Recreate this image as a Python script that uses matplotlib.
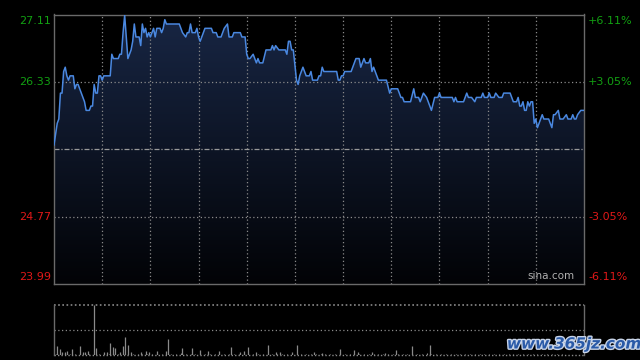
import numpy as np
import matplotlib
matplotlib.use("Agg")
import matplotlib.pyplot as plt
import matplotlib.patheffects as pe

# ---------------- data ----------------
prev_close = 25.55
y_ticks_left = [27.11, 26.33, 24.77, 23.99]
y_ticks_right = ["+6.11%", "+3.05%", "-3.05%", "-6.11%"]

minutes = [0, 2, 3, 4, 5, 6, 7, 8, 9, 10, 12, 13, 14, 15, 17, 18, 19, 20, 22, 23,
           24, 25, 26, 27, 28, 29, 30, 31, 35, 36, 37, 40, 41, 42, 43, 44, 46, 48, 49, 50,
           51, 53, 54, 55, 56, 57, 58, 59, 60, 61, 62, 63, 64, 66, 67, 68, 69, 70, 78, 80,
           82, 83, 84, 85, 86, 88, 89, 90, 91, 94, 98, 99, 101, 102, 104, 106, 108, 109, 111, 112,
           116, 117, 119, 120, 121, 122, 124, 125, 126, 127, 128, 130, 132, 135, 136, 137, 138, 140, 144, 145,
           146, 147, 148, 149, 151, 152, 153, 155, 157, 159, 160, 161, 164, 165, 166, 167, 168, 176, 177, 178,
           179, 180, 181, 185, 188, 190, 191, 193, 194, 196, 197, 198, 199, 202, 207, 209, 210, 214, 216, 217,
           218, 222, 224, 225, 227, 228, 230, 232, 235, 237, 239, 240, 241, 248, 249, 250, 251, 255, 257, 258,
           260, 262, 263, 266, 267, 268, 270, 271, 272, 274, 275, 277, 279, 280, 284, 286, 288, 289, 290, 291,
           292, 293, 294, 295, 296, 297, 298, 299, 300, 301, 302, 304, 305, 308, 310, 311, 312, 314, 315, 317,
           319, 320, 322, 323, 324, 325, 326, 328, 330]
prices = [25.60, 25.85, 25.90, 26.20, 26.20, 26.45, 26.50, 26.40, 26.35, 26.40, 26.40, 26.25, 26.30, 26.30, 26.20, 26.15, 26.10, 26.00, 26.00, 26.05,
          26.05, 26.30, 26.20, 26.20, 26.40, 26.40, 26.35, 26.40, 26.40, 26.65, 26.60, 26.60, 26.65, 26.65, 26.90, 27.10, 26.60, 26.70, 26.80, 27.00,
          26.85, 26.85, 26.75, 27.00, 26.90, 26.95, 26.85, 26.90, 26.85, 26.90, 26.95, 26.85, 26.95, 26.95, 26.90, 26.95, 27.05, 27.00, 27.00, 26.90,
          26.85, 26.90, 26.90, 27.00, 26.90, 26.90, 26.95, 26.85, 26.80, 26.95, 26.95, 26.90, 26.90, 26.85, 26.85, 26.95, 27.00, 26.85, 26.85, 26.90,
          26.90, 26.85, 26.85, 26.65, 26.60, 26.60, 26.65, 26.60, 26.55, 26.60, 26.55, 26.55, 26.70, 26.70, 26.75, 26.70, 26.75, 26.70, 26.70, 26.65,
          26.80, 26.80, 26.70, 26.70, 26.35, 26.30, 26.40, 26.50, 26.40, 26.40, 26.45, 26.35, 26.35, 26.40, 26.40, 26.50, 26.45, 26.45, 26.35, 26.35,
          26.40, 26.40, 26.45, 26.45, 26.60, 26.60, 26.50, 26.60, 26.55, 26.55, 26.60, 26.45, 26.50, 26.35, 26.35, 26.20, 26.25, 26.25, 26.15, 26.15,
          26.10, 26.10, 26.25, 26.15, 26.15, 26.10, 26.20, 26.15, 26.00, 26.15, 26.15, 26.20, 26.15, 26.15, 26.10, 26.15, 26.10, 26.10, 26.20, 26.15,
          26.15, 26.10, 26.15, 26.15, 26.20, 26.15, 26.15, 26.20, 26.15, 26.15, 26.20, 26.15, 26.15, 26.20, 26.20, 26.10, 26.10, 26.15, 26.05, 26.05,
          26.10, 26.00, 26.00, 26.10, 26.05, 26.10, 26.10, 25.85, 25.90, 25.80, 25.85, 25.95, 25.90, 25.90, 25.80, 25.95, 25.95, 26.00, 25.90, 25.90,
          25.95, 25.90, 25.90, 25.95, 25.90, 25.90, 25.95, 26.00, 26.00]

# prominent volume bars (minute, volume)
vol_minutes = [2, 4, 5, 7, 8, 11, 16, 18, 19, 21, 25, 26, 31, 33, 35, 37, 38, 41, 43, 44,
               46, 48, 54, 57, 59, 64, 70, 71, 80, 86, 91, 96, 103, 110, 116, 118, 121, 126, 133, 138,
               141, 148, 151, 162, 167, 178, 187, 189, 198, 206, 213, 223, 234]
vol_values = [93, 60, 27, 33, 40, 60, 93, 27, 33, 40, 500, 67, 27, 33, 123, 83, 73, 27, 93, 183,
              100, 27, 27, 40, 33, 40, 40, 163, 73, 73, 50, 40, 40, 83, 27, 40, 83, 33, 100, 27,
              27, 27, 100, 27, 20, 60, 50, 33, 33, 20, 50, 87, 103]
# small background volume, one value every 3 minutes
small_vol = [12, 8, 15, 10, 6, 14, 9, 11, 7, 13, 10, 8, 16, 9, 12, 7, 10, 14, 8, 11,
             9, 13, 6, 10, 12, 8, 15, 9, 7, 11, 10, 13, 8, 9, 12, 6, 10, 14, 9, 8,
             11, 7, 13, 10, 9, 12, 8, 6, 11, 10, 14, 9, 7, 12, 8, 10, 13, 9, 6, 11,
             10, 8, 12, 9, 14, 7, 10, 11, 8, 13, 9, 6, 12, 10, 8, 11, 9, 15, 7, 10,
             12, 8, 9, 11, 6, 13, 10, 8, 12, 9, 7, 11, 10, 14, 8, 9, 12, 6, 10, 11,
             8, 13, 9, 10, 7, 12]

# ---------------- figure ----------------
W, H = 640, 360
fig = plt.figure(figsize=(6.4, 3.6), dpi=100, facecolor="black")

x0, x1 = 54, 584
yt, yb = 14.5, 284
ax = fig.add_axes([x0 / W, (H - yb) / H, (x1 - x0) / W, (yb - yt) / H])
ax.set_facecolor("black")
ymin, ymax = y_ticks_left[-1], y_ticks_left[0]
ax.set_xlim(0, 330)
ax.set_ylim(ymin, ymax)

# gradient fill under line
grad = np.linspace(1, 0, 256).reshape(-1, 1)
top_c = np.array([0x18, 0x26, 0x44]) / 255
bot_c = np.array([0x02, 0x03, 0x06]) / 255
img = top_c[None, None, :] * grad[:, :, None] + bot_c[None, None, :] * (1 - grad[:, :, None])
im = ax.imshow(img, extent=[0, 330, ymin, ymax], aspect="auto", zorder=1, origin="upper")
poly = ax.fill_between(minutes, prices, ymin, facecolor="none", edgecolor="none")
clip = poly.get_paths()[0]
im.set_clip_path(clip, transform=ax.transData)

grid_c = "#8a8a8a"
for m in range(30, 330, 30):
    ax.axvline(m, color=grid_c, lw=0.9, ls=(0, (1, 2)), zorder=2)
for v in [26.33, 24.77]:
    ax.axhline(v, color=grid_c, lw=0.9, ls=(0, (1, 2)), zorder=2)
ax.axhline(prev_close, color="#9a9a9a", lw=0.9, ls=(0, (4, 1.5, 1, 1.5)), zorder=2)

ax.plot(minutes, prices, color="#4a88e0", lw=1.1, zorder=3)

for s in ax.spines.values():
    s.set_color("#6a6a6a")
    s.set_linewidth(1)
ax.set_xticks([])
ax.set_yticks([])

green = "#12a012"
red = "#e01818"
lab_colors = [green, green, red, red]
fs = 8
for i, (v, r) in enumerate(zip(y_ticks_left, y_ticks_right)):
    va = "center"
    yy = v
    if i == 0:
        va = "top"; yy = v - 0.02
    elif i == 3:
        va = "bottom"; yy = v + 0.02
    ax.text(-0.006, yy, f"{v:.2f}", transform=ax.get_yaxis_transform(), ha="right",
            va=va, color=lab_colors[i], fontsize=fs)
    ax.text(1.008, yy, r, transform=ax.get_yaxis_transform(), ha="left",
            va=va, color=lab_colors[i], fontsize=fs)

ax.text(0.982, 0.012, "sina.com", transform=ax.transAxes, ha="right", va="bottom",
        color="#b0b0b0", fontsize=7.5, zorder=4)

# ---------------- volume ----------------
vt, vb = 304.7, 355
axv = fig.add_axes([x0 / W, (H - vb) / H, (x1 - x0) / W, (vb - vt) / H])
axv.set_facecolor("black")
axv.set_xlim(0, 330)
axv.set_ylim(0, max(vol_values))
small_t = list(range(1, 330, 3))[:len(small_vol)]
axv.vlines(small_t, 0, small_vol, color="#8a8a8a", lw=0.8)
axv.vlines(vol_minutes, 0, vol_values, color="#8a8a8a", lw=0.9)
axv.axhline(max(vol_values) / 2, color=grid_c, lw=0.9, ls=(0, (1, 2)))
axv.axhline(max(vol_values), color=grid_c, lw=1.2, ls=(0, (1, 1.5)), clip_on=False)
axv.axhline(0, color=grid_c, lw=1.0, ls=(0, (1, 1.5)), clip_on=False)
for k in ["top", "bottom"]:
    axv.spines[k].set_visible(False)
for k in ["left", "right"]:
    axv.spines[k].set_color("#6a6a6a")
    axv.spines[k].set_linewidth(1)
axv.set_xticks([])
axv.set_yticks([])

# watermark
fig.text(574 / W, (H - 344) / H, "www.365jz.com", ha="center", va="center",
         color="#2a5aa8", fontsize=11, fontweight="bold", style="italic",
         path_effects=[pe.withStroke(linewidth=2, foreground="#c8d4e8")])

fig.savefig("out.png", dpi=100, facecolor="black")
